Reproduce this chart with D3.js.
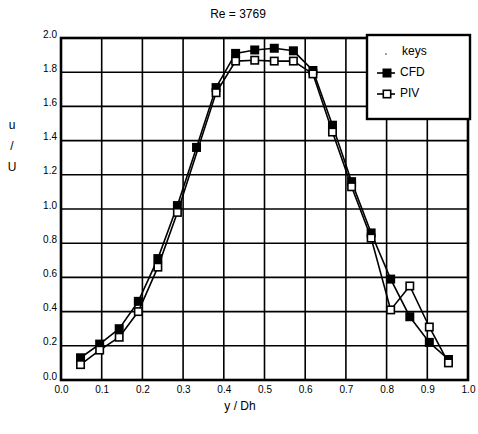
<!DOCTYPE html>
<html><head><meta charset="utf-8">
<script src="https://cdn.jsdelivr.net/npm/d3@7"></script>
<style>body{margin:0;background:#fff}svg{display:block}</style>
</head><body>
<script>
const title = "Re = 3769";
const xLabel = "y / Dh";
const yLabelParts = ["u", "/", "U"];
const xTicks = [0.0,0.1,0.2,0.3,0.4,0.5,0.6,0.7,0.8,0.9,1.0];
const yTicks = [0.0,0.2,0.4,0.6,0.8,1.0,1.2,1.4,1.6,1.8,2.0];
const cfdX = [0.048,0.095,0.143,0.190,0.238,0.286,0.333,0.381,0.429,0.476,0.524,0.571,0.619,0.667,0.714,0.762,0.810,0.857,0.905,0.952];
const cfdY = [0.13,0.21,0.30,0.46,0.71,1.02,1.36,1.71,1.91,1.93,1.94,1.925,1.81,1.49,1.16,0.86,0.59,0.37,0.22,0.12];
const pivX = [0.048,0.095,0.143,0.190,0.238,0.286,0.381,0.429,0.476,0.524,0.571,0.619,0.667,0.714,0.762,0.810,0.857,0.905,0.952];
const pivY = [0.09,0.175,0.25,0.40,0.66,0.98,1.68,1.865,1.87,1.865,1.865,1.79,1.45,1.13,0.83,0.41,0.55,0.31,0.10];
const legendKeys = ["CFD","PIV"];

const W=478,H=434;
const svg=d3.select("body").append("svg").attr("width",W).attr("height",H)
  .style("font-family","'Liberation Sans', Arial, sans-serif");
const x=d3.scaleLinear().domain([0,1]).range([61,468]);
const y=d3.scaleLinear().domain([0,2]).range([380,38]);

// grid
svg.append("g").selectAll("line").data(xTicks.slice(1,-1)).join("line")
  .attr("x1",d=>x(d)).attr("x2",d=>x(d)).attr("y1",y(0)).attr("y2",y(2))
  .attr("stroke","#000").attr("stroke-width",1.6);
svg.append("g").selectAll("line").data(yTicks.slice(1,-1)).join("line")
  .attr("y1",d=>y(d)).attr("y2",d=>y(d)).attr("x1",x(0)).attr("x2",x(1))
  .attr("stroke","#000").attr("stroke-width",1.6);
svg.append("rect").attr("x",x(0)).attr("y",y(2)).attr("width",x(1)-x(0)).attr("height",y(0)-y(2))
  .attr("fill","none").attr("stroke","#000").attr("stroke-width",2.6);

// axes tick labels
const xAxis=d3.axisBottom(x).tickValues(xTicks).tickFormat(d3.format(".1f")).tickSize(0).tickPadding(6);
const gx=svg.append("g").attr("transform",`translate(0,${y(0)})`).call(xAxis);
gx.select(".domain").remove();
gx.selectAll("text").attr("font-size",10).attr("font-family","'Liberation Sans', Arial, sans-serif").attr("fill","#000");
const yAxis=d3.axisLeft(y).tickValues(yTicks).tickFormat(d3.format(".1f")).tickSize(0).tickPadding(4);
const gy=svg.append("g").attr("transform",`translate(${x(0)},0)`).call(yAxis);
gy.select(".domain").remove();
gy.selectAll("text").attr("font-size",10).attr("font-family","'Liberation Sans', Arial, sans-serif").attr("fill","#000").attr("dy","-0.1em");

// titles
svg.append("text").attr("x",238).attr("y",18).attr("text-anchor","middle").attr("font-size",12).text(title);
svg.append("text").attr("x",240).attr("y",410).attr("text-anchor","middle").attr("font-size",12).text(xLabel);
svg.selectAll(".yl").data(yLabelParts).join("text").attr("class","yl")
  .attr("x",12).attr("y",(d,i)=>129+i*21).attr("text-anchor","middle").attr("font-size",12).text(d=>d);

// series
const cfd=cfdX.map((v,i)=>[v,cfdY[i]]);
const piv=pivX.map((v,i)=>[v,pivY[i]]);
const line=d3.line().x(d=>x(d[0])).y(d=>y(d[1]));
svg.append("path").datum(piv).attr("d",line).attr("fill","none").attr("stroke","#000").attr("stroke-width",1.6);
svg.append("path").datum(cfd).attr("d",line).attr("fill","none").attr("stroke","#000").attr("stroke-width",1.6);
const s=9;
svg.append("g").selectAll("rect").data(cfd).join("rect")
  .attr("x",d=>x(d[0])-s/2).attr("y",d=>y(d[1])-s/2).attr("width",s).attr("height",s).attr("fill","#000");
svg.append("g").selectAll("rect").data(piv).join("rect")
  .attr("x",d=>x(d[0])-s/2+0.8).attr("y",d=>y(d[1])-s/2+0.8).attr("width",s-1.6).attr("height",s-1.6)
  .attr("fill","#fff").attr("stroke","#000").attr("stroke-width",1.6);

// legend
const lg=svg.append("g");
lg.append("rect").attr("x",367).attr("y",35).attr("width",103).attr("height",84)
  .attr("fill","#fff").attr("stroke","#000").attr("stroke-width",2.4);
lg.append("text").attr("x",402).attr("y",55).attr("font-size",12).text("keys");
lg.append("circle").attr("cx",386).attr("cy",54).attr("r",0.7).attr("fill","#000");
legendKeys.forEach((k,i)=>{
  const ly=73+i*21;
  lg.append("line").attr("x1",377).attr("x2",395).attr("y1",ly).attr("y2",ly).attr("stroke","#000").attr("stroke-width",1.6);
  if(i===0) lg.append("rect").attr("x",387-4.5).attr("y",ly-4.5).attr("width",9).attr("height",9).attr("fill","#000");
  else lg.append("rect").attr("x",387-3.7).attr("y",ly-3.7).attr("width",7.4).attr("height",7.4).attr("fill","#fff").attr("stroke","#000").attr("stroke-width",1.6);
  lg.append("text").attr("x",400).attr("y",ly+3).attr("font-size",12).text(k);
});
</script>
</body></html>
